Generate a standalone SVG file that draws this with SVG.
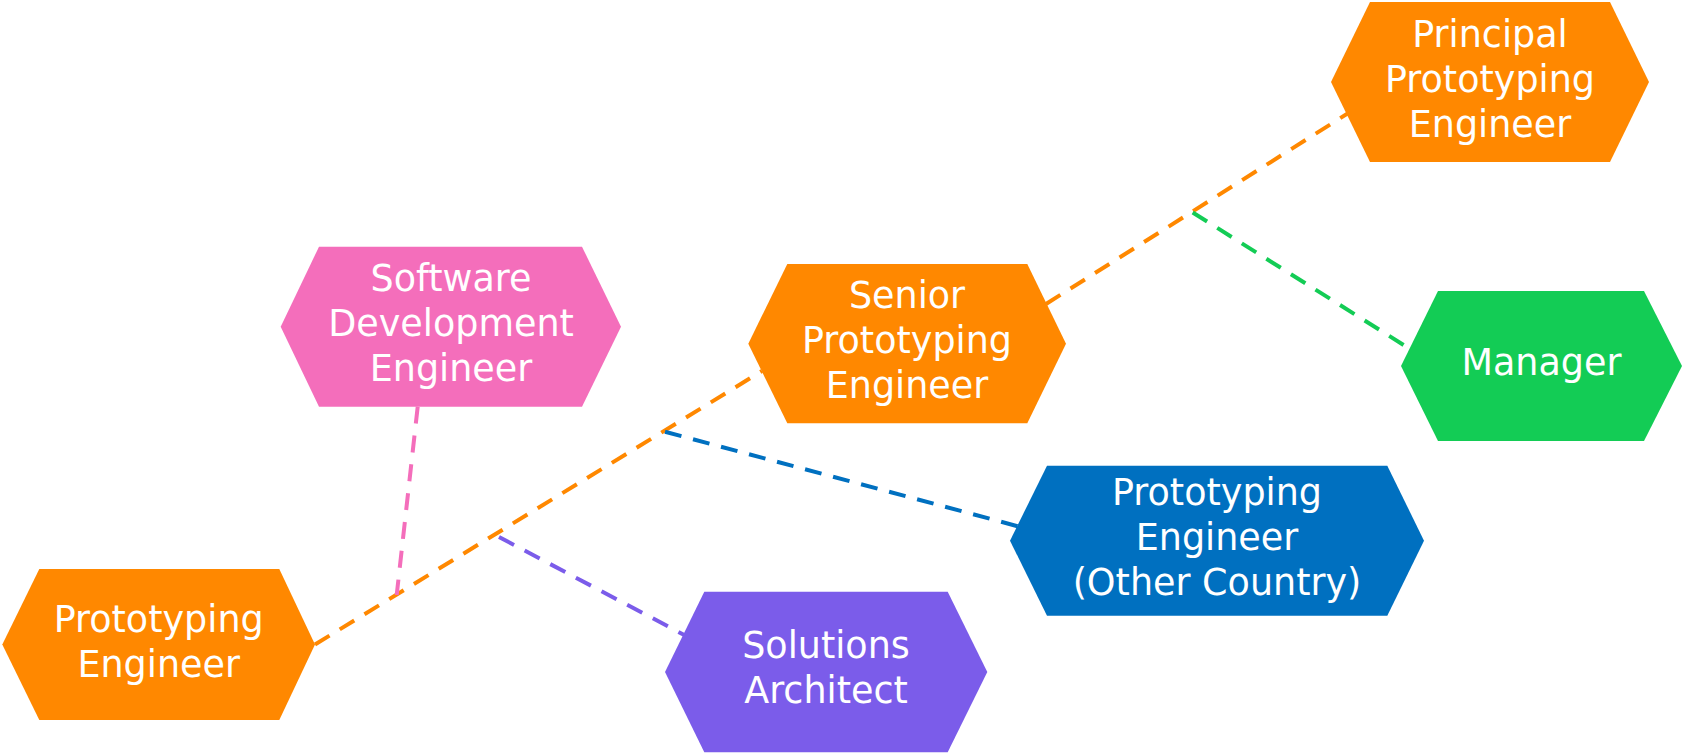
<svg xmlns="http://www.w3.org/2000/svg" width="1683" height="754" viewBox="0 0 1683 754">
<style>
.bg{fill:#ffffff}
.lbl{font-family:"DejaVu Sans","Verdana",sans-serif;font-size:36.5px;fill:#ffffff;text-anchor:middle}
.c{fill:none;stroke-width:4;stroke-dasharray:17 12}
.orange{fill:#FF8800}
.pink{fill:#F46EBB}
.green{fill:#13CC55}
.blue{fill:#0070C0}
.purple{fill:#7B5CEA}
</style>
<rect class="bg" x="0" y="0" width="1683" height="754"/>
<g id="connectors">
<line class="c" x1="315" y1="644.5" x2="762" y2="371" stroke="#FF8800"/>
<line class="c" x1="1046" y1="304" x2="1350" y2="112" stroke="#FF8800"/>
<line class="c" x1="1192.7" y1="212.5" x2="1418" y2="354" stroke="#13CC55"/>
<line class="c" x1="665" y1="431.7" x2="1028" y2="529" stroke="#0070C0"/>
<line class="c" x1="499" y1="537" x2="690" y2="638" stroke="#7B5CEA"/>
<line class="c" x1="417.7" y1="406.7" x2="396.7" y2="595" stroke="#F46EBB"/>
</g>
<g id="node-principal">
<polygon class="orange" points="1331,82 1370,2 1610,2 1649,82 1610,162 1370,162"/>
<text class="lbl" x="1490" y="46.7">Principal</text>
<text class="lbl" x="1490" y="91.7">Prototyping</text>
<text class="lbl" x="1490" y="136.7">Engineer</text>
</g>
<g id="node-manager">
<polygon class="green" points="1401,366 1438,291 1644,291 1682,366 1644,441 1438,441"/>
<text class="lbl" x="1541.5" y="375">Manager</text>
</g>
<g id="node-sde">
<polygon class="pink" points="280.7,326.7 319,246.7 582,246.7 621,326.7 582,406.7 319,406.7"/>
<text class="lbl" x="451" y="291.4">Software</text>
<text class="lbl" x="451" y="336.4">Development</text>
<text class="lbl" x="451" y="381.4">Engineer</text>
</g>
<g id="node-senior">
<polygon class="orange" points="748.3,343.7 787.3,264 1027.3,264 1066,343.7 1027.3,423.3 787.3,423.3"/>
<text class="lbl" x="907" y="308.4">Senior</text>
<text class="lbl" x="907" y="353.4">Prototyping</text>
<text class="lbl" x="907" y="398.4">Engineer</text>
</g>
<g id="node-other-country">
<polygon class="blue" points="1010,540.7 1047,465.7 1387.3,465.7 1424,540.7 1387.3,615.7 1047,615.7"/>
<text class="lbl" x="1217" y="505">Prototyping</text>
<text class="lbl" x="1217" y="550">Engineer</text>
<text class="lbl" x="1217" y="595">(Other Country)</text>
</g>
<g id="node-solutions">
<polygon class="purple" points="665,672 704.3,591.7 947.7,591.7 987.3,672 947.7,752.3 704.3,752.3"/>
<text class="lbl" x="826" y="658">Solutions</text>
<text class="lbl" x="826" y="703">Architect</text>
</g>
<g id="node-prototyping">
<polygon class="orange" points="2.3,644.5 39.3,569 279.3,569 315,644.5 279.3,720 39.3,720"/>
<text class="lbl" x="158.7" y="631.7">Prototyping</text>
<text class="lbl" x="158.7" y="676.7">Engineer</text>
</g>
</svg>
